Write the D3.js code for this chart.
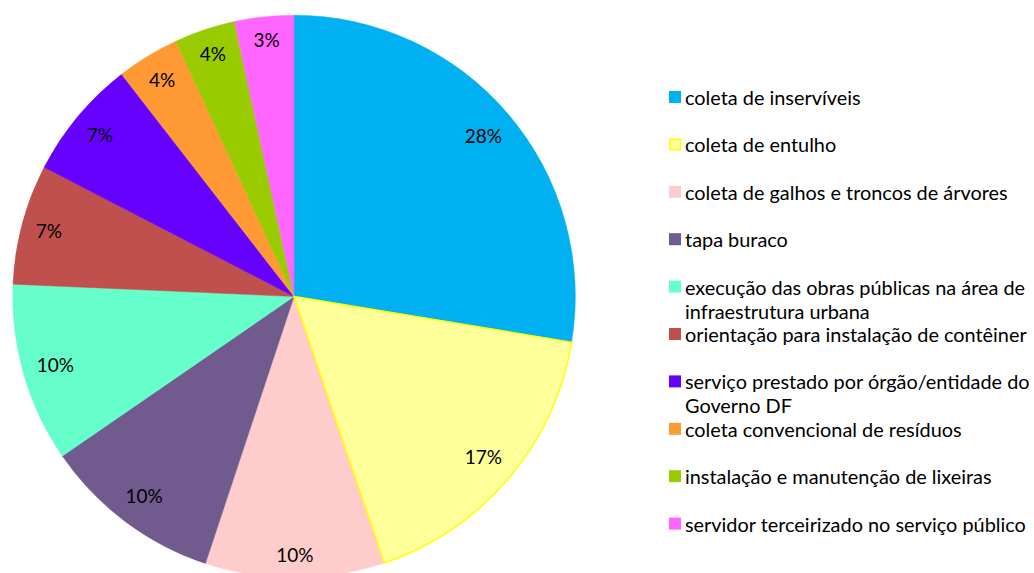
<!DOCTYPE html>
<html>
<head>
<meta charset="utf-8">
<script src="https://cdn.jsdelivr.net/npm/d3@7"></script>
<style>
  html, body { margin: 0; padding: 0; background: #fff; }
  svg { display: block; }
  text { font-family: Lato, "Open Sans", sans-serif; }
</style>
</head>
<body>
<svg id="chart" width="1034" height="573"></svg>
<script>
const categories = [
  "coleta de inservíveis",
  "coleta de entulho",
  "coleta de galhos e troncos de árvores",
  "tapa buraco",
  "execução das obras públicas na área de infraestrutura urbana",
  "orientação para instalação de contêiner",
  "serviço prestado por órgão/entidade do Governo DF",
  "coleta convencional de resíduos",
  "instalação e manutenção de lixeiras",
  "servidor terceirizado no serviço público"
];
const legendLines = [
  ["coleta de inservíveis"],
  ["coleta de entulho"],
  ["coleta de galhos e troncos de árvores"],
  ["tapa buraco"],
  ["execução das obras públicas na área de", "infraestrutura urbana"],
  ["orientação para instalação de contêiner"],
  ["serviço prestado por órgão/entidade do", "Governo DF"],
  ["coleta convencional de resíduos"],
  ["instalação e manutenção de lixeiras"],
  ["servidor terceirizado no serviço público"]
];
const values = [27.6, 17.2, 10.3, 10.3, 10.3, 6.9, 6.9, 3.6, 3.5, 3.4];
const colors = ["#00B0F0", "#FFFF99", "#FFCCCC", "#715A8E", "#66FFCC",
                "#C0504D", "#6600FF", "#FF9933", "#99CC00", "#FF66FF"];
const strokes = [null, "#FFFF00", null, null, null, null, null, null, null, null];

const svg = d3.select("#chart");
const cx = 294, cy = 296.5, r = 281.3;

const data = categories.map((c, i) => ({ cat: c, value: values[i], i }));
const pie = d3.pie().value(d => d.value).sort(null);
const arcs = pie(data);
const arc = d3.arc().innerRadius(0).outerRadius(r);

const g = svg.append("g").attr("transform", `translate(${cx},${cy})`);
g.selectAll("path.slice")
  .data(arcs)
  .join("path")
  .attr("class", "slice")
  .attr("d", arc)
  .attr("fill", d => colors[d.data.i])
  .attr("stroke", d => colors[d.data.i])
  .attr("stroke-width", 0.5)
  .attr("stroke-linejoin", "round");
g.selectAll("path.outline")
  .data(arcs.filter(d => strokes[d.data.i]))
  .join("path")
  .attr("class", "outline")
  .attr("d", arc)
  .attr("fill", "none")
  .attr("stroke", d => strokes[d.data.i])
  .attr("stroke-width", 1.5);

// Data labels: "inside end" placement — label box kept a fixed distance inside the rim
const lblFs = 19, lblRim = 269, lblBoxH = 20;
const labels = g.selectAll("text.lbl")
  .data(arcs)
  .join("text")
  .attr("class", "lbl")
  .attr("text-anchor", "middle")
  .attr("font-size", lblFs)
  .attr("fill", "#000")
  .text(d => Math.round(d.data.value) + "%");
labels.each(function(d) {
  const w = this.getComputedTextLength();
  const a = (d.startAngle + d.endAngle) / 2;
  const s = Math.sin(a), c = Math.cos(a);
  const rr = lblRim - (Math.abs(s) * w / 2 + Math.abs(c) * lblBoxH / 2);
  const x = rr * s, y = -rr * c;
  d3.select(this).attr("x", x).attr("y", y + 0.36 * lblFs);
});

// Legend
const lx = 669, tx = 685, ly0 = 97, lstep = 47.4, lineH = 24;
const leg = svg.append("g");
const items = leg.selectAll("g.item")
  .data(data)
  .join("g")
  .attr("class", "item")
  .attr("transform", (d, i) => `translate(0,${ly0 + i * lstep})`);

items.append("rect")
  .attr("x", d => strokes[d.i] ? lx + 0.75 : lx)
  .attr("y", d => strokes[d.i] ? -5.25 : -6)
  .attr("width", d => strokes[d.i] ? 10.5 : 12)
  .attr("height", d => strokes[d.i] ? 10.5 : 12)
  .attr("fill", d => colors[d.i])
  .attr("stroke", d => strokes[d.i] || "none")
  .attr("stroke-width", 1.5);

const texts = items.append("text")
  .attr("x", tx)
  .attr("y", 0)
  .attr("fill", "#000")
  .attr("font-size", 17);
texts.each(function(d) {
  const t = d3.select(this);
  legendLines[d.i].forEach((ln, k) => {
    t.append("tspan")
      .attr("x", tx)
      .attr("y", k * lineH)
      .attr("dominant-baseline", "central")
      .text(ln);
  });
});
const probe = svg.append("text").attr("font-size", 17).text(legendLines[9][0]);
const w = probe.node().getComputedTextLength();
probe.remove();
texts.attr("font-size", 17 * 341 / w);
</script>
</body>
</html>
